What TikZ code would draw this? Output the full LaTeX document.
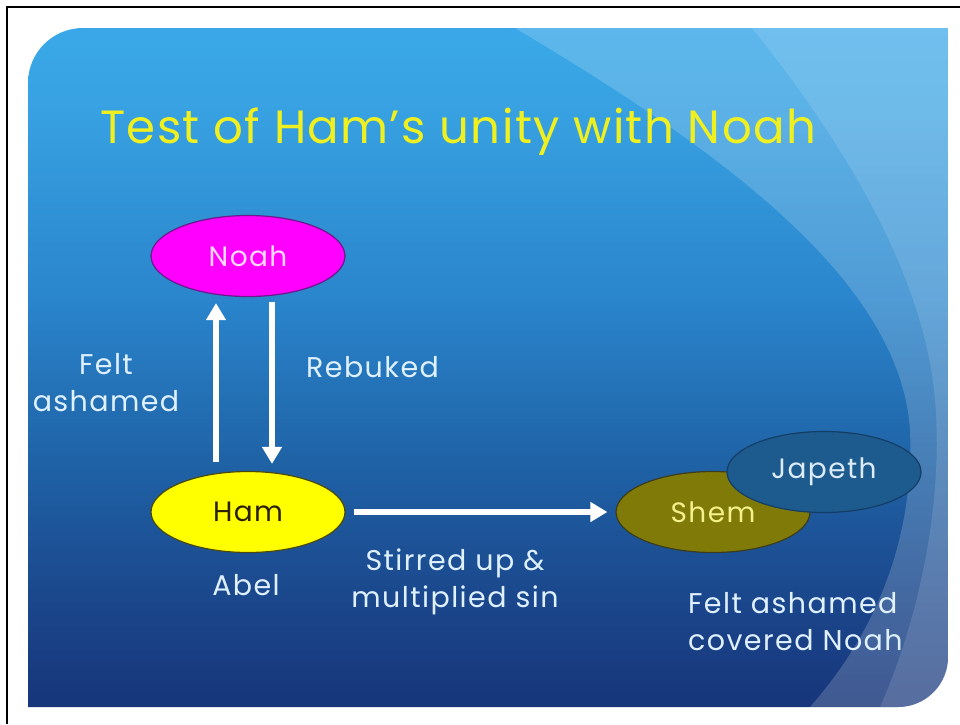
\documentclass[tikz,border=0pt]{standalone}
\usepackage{fontspec}
\setmainfont{Poppins}
\newfontfamily\titlefont[LetterSpace=3]{Poppins}
\newfontfamily\labelfont[LetterSpace=5]{Poppins}
\usetikzlibrary{shapes.geometric,arrows.meta}

\definecolor{bgA}{HTML}{17357A}
\definecolor{bgB}{HTML}{1B478C}
\definecolor{bgC}{HTML}{1F62A6}
\definecolor{bgD}{HTML}{2A85CC}
\definecolor{bgE}{HTML}{38A2E2}
\definecolor{bgF}{HTML}{3AA8E8}
\definecolor{lbltext}{HTML}{DFF0FF}
\definecolor{titleyellow}{HTML}{F0F020}
\definecolor{noahfill}{HTML}{FF00FF}
\definecolor{noahline}{HTML}{6A1A8A}
\definecolor{noahtext}{HTML}{FFD8FF}
\definecolor{hamfill}{HTML}{FFFF00}
\definecolor{hamline}{HTML}{4A4A10}
\definecolor{hamtext}{HTML}{2A2000}
\definecolor{shemfill}{HTML}{807B08}
\definecolor{shemline}{HTML}{3C3C1E}
\definecolor{shemtext}{HTML}{F4F08A}
\definecolor{japfill}{HTML}{1D5A8E}
\definecolor{japline}{HTML}{143E66}
\definecolor{japtext}{HTML}{DCEBF8}

% vertical background shading: dark navy at the bottom, sky blue at the top
\pgfdeclareverticalshading{slidebg}{100bp}{%
  color(0bp)=(bgA); color(25bp)=(bgA); color(33bp)=(bgB); color(43bp)=(bgC);
  color(55bp)=(bgD); color(69.5bp)=(bgE); color(75bp)=(bgF); color(100bp)=(bgF)}

\def\slideshape{(28,707) -- (28,83) .. controls (28,52.6) and (52.6,28) .. (83,28)
  -- (948,28) -- (948,657) .. controls (948,684.6) and (925.6,707) .. (898,707) -- cycle}

\tikzset{
  oval/.style={ellipse, minimum width=194pt, minimum height=81pt, inner sep=0pt,
    line width=1.2pt, font=\labelfont\fontsize{28}{28}\selectfont},
  lbl/.style={text=lbltext, align=center, inner sep=0pt,
    font=\labelfont\fontsize{28.5}{37}\selectfont},
  bigarrow/.style={draw=white, line width=6pt, -{Triangle[length=17pt,width=19pt]}},
}

\begin{document}
\begin{tikzpicture}[x=1pt,y=-1pt]
\useasboundingbox (0,0) rectangle (960,724);
\fill[white] (0,0) rectangle (960,724);
% page frame
\draw[line width=2.5pt] (7,724) -- (7,7) -- (960,7);

% slide background with the light swoosh on the right
\begin{scope}
  \clip \slideshape;
  \shade[shading=slidebg] (28,28) rectangle (948,707);
  \fill[white, opacity=0.18] (515,28) .. controls (720,150) and (900,280) .. (910,430)
    .. controls (915,560) and (860,650) .. (810,707) -- (960,707) -- (960,28) -- cycle;
  \fill[white, opacity=0.12] (752,28) .. controls (850,150) and (925,280) .. (935,400)
    .. controls (945,520) and (910,640) .. (880,707) -- (960,707) -- (960,28) -- cycle;
\end{scope}

% title
\node[anchor=base west, inner sep=0pt, text=titleyellow, font=\titlefont\fontsize{46.6}{46.6}\selectfont]
  (title) at (100,143) {Test of Ham’s unity with Noah};

% people
\node[oval, fill=noahfill, draw=noahline, text=noahtext] (noah) at (248,256) {Noah};
\node[oval, fill=hamfill, draw=hamline, text=hamtext] (ham) at (248,512) {Ham};
\node[oval, fill=shemfill, draw=shemline, text=shemtext] (shem) at (713,512) {Shem};
\node[oval, fill=japfill, draw=japline, text=japtext] (japeth) at (824,472) {Japeth};

% connectors
\draw[bigarrow] ([xshift=-32pt,yshift=9pt]ham.north) -- ([xshift=-32pt,yshift=-6pt]noah.south);
\draw[bigarrow] ([xshift=24pt,yshift=-5pt]noah.south) -- ([xshift=24pt,yshift=7pt]ham.north);
\draw[bigarrow] ([xshift=8pt]ham.east) -- ([xshift=-8pt]shem.west);

% labels
\node[lbl] (ashamed) at (106,383) {Felt\\ashamed};
\node[lbl, anchor=base west] (rebuked) at (306,377) {Rebuked};
\node[lbl, anchor=base] (abel) at (246,595) {Abel};
\node[lbl] (stirred) at (455,582) {Stirred up \&\\multiplied sin};
\node[lbl, align=left, anchor=west] (covered) at (688,622) {Felt ashamed\\covered Noah};
\end{tikzpicture}
\end{document}
